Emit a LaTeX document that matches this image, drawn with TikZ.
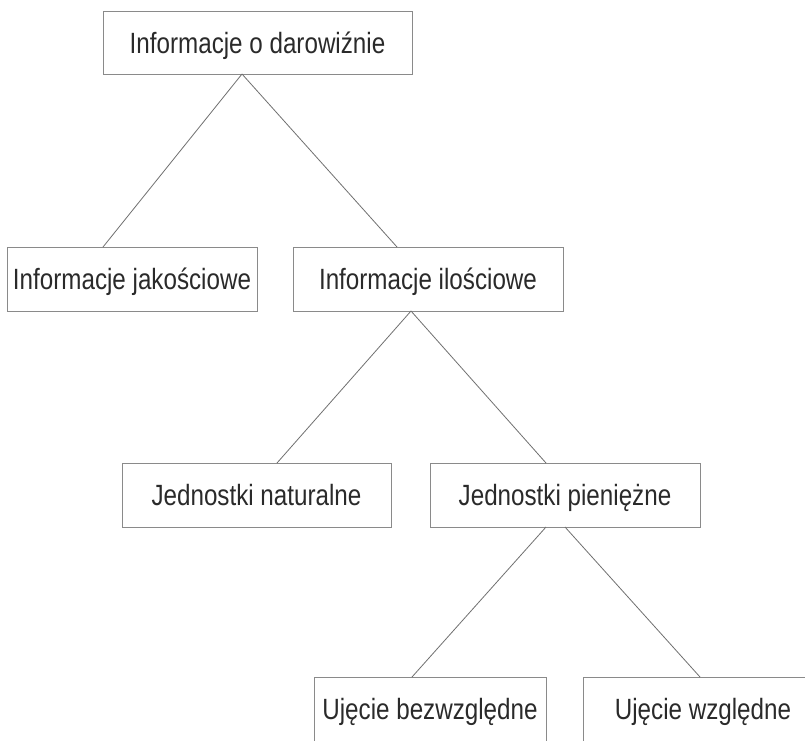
\documentclass[tikz,border=0pt]{standalone}
\usepackage{fontspec}
\setmainfont{Liberation Sans}
\newfontfamily\boxfont[FakeStretch=0.826]{Liberation Sans}
\definecolor{txt}{HTML}{2A2A2A}
\definecolor{boxline}{HTML}{8A8A8A}
\definecolor{conn}{HTML}{707070}
\begin{document}
\begin{tikzpicture}[x=1pt,y=-1pt,
  box/.style={draw=boxline, line width=0.9pt, rectangle, inner sep=0pt, outer sep=0pt,
    minimum height=64pt, text=txt, font=\boxfont\fontsize{29.3}{34}\selectfont,
    text height=26.4pt, text depth=5.4pt},
  link/.style={draw=conn, line width=0.8pt}]
\useasboundingbox (0,0) rectangle (805,740);
\clip (0,0) rectangle (805,740);
\fill[white] (0,0) rectangle (805,740);
\node[box, minimum width=309pt, minimum height=63pt] (n1) at (257.5,42.5) {Informacje o darowiźnie};
\node[box, minimum width=250pt] (n2) at (132,279) {Informacje jakościowe};
\node[box, minimum width=270pt] (n3) at (428,279) {Informacje ilościowe};
\node[box, minimum width=269pt] (n4) at (256.5,495) {Jednostki naturalne};
\node[box, minimum width=270pt] (n5) at (565,495) {Jednostki pieniężne};
\node[box, minimum width=232pt] (n6) at (430,709) {Ujęcie bezwzględne};
\node[box, minimum width=240pt] (n7) at (703,709) {Ujęcie względne};
\draw[link] ([xshift=-15.5pt]n1.south) -- ([xshift=-29pt]n2.north);
\draw[link] ([xshift=-15.5pt]n1.south) -- ([xshift=-31pt]n3.north);
\draw[link] ([xshift=-17pt]n3.south) -- ([xshift=20.5pt]n4.north);
\draw[link] ([xshift=-17pt]n3.south) -- ([xshift=-19pt]n5.north);
\draw[link] ([xshift=-19pt]n5.south) -- ([xshift=-18pt]n6.north);
\draw[link] (n5.south) -- ([xshift=-3pt]n7.north);
\end{tikzpicture}
\end{document}
